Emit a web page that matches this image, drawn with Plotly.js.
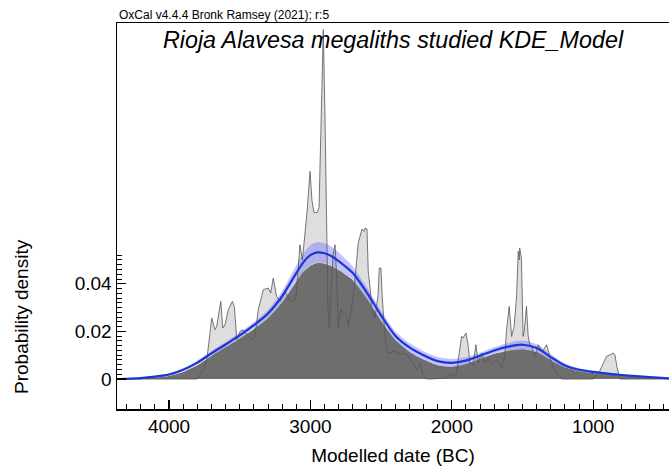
<!DOCTYPE html>
<html>
<head>
<meta charset="utf-8">
<script src="https://cdn.plot.ly/plotly-3.0.1.min.js"></script>
<style>
html,body{margin:0;padding:0;background:#fff;}
#chart{width:669px;height:466px;}
</style>
</head>
<body>
<div id="chart"></div>
<script>
// ---- Data (years BC, probability density) ----
// KDE mean (blue line) and its 1-sigma half width (blue band)
var kdeYears = [4368,4300,4200,4100,4000,3900,3800,3700,3600,3500,3400,3300,3200,3100,3050,3000,2950,2900,2850,2800,2700,2600,2500,2400,2300,2200,2100,2000,1900,1800,1700,1600,1500,1400,1300,1200,1100,1000,900,800,700,600,464];
var kdeMean  = [0.0000,0.0001,0.0004,0.0010,0.0019,0.0039,0.0069,0.0108,0.0145,0.0183,0.0226,0.0275,0.0348,0.0445,0.0490,0.0520,0.0532,0.0528,0.0516,0.0495,0.0445,0.0362,0.0267,0.0182,0.0133,0.0100,0.0075,0.0068,0.0077,0.0098,0.0120,0.0136,0.0144,0.0130,0.0092,0.0057,0.0039,0.0030,0.0023,0.0017,0.0012,0.0008,0.0003];
var kdeSigma = [0.0001,0.0002,0.0003,0.0004,0.0005,0.0006,0.0008,0.0009,0.0010,0.0011,0.0013,0.0016,0.0022,0.0032,0.0038,0.0042,0.0043,0.0042,0.0040,0.0036,0.0028,0.0022,0.0020,0.0019,0.0018,0.0017,0.0017,0.0016,0.0014,0.0012,0.0013,0.0016,0.0018,0.0016,0.0012,0.0008,0.0006,0.0005,0.0004,0.0003,0.0003,0.0002,0.0001];
// Modelled KDE distribution (dark grey)
var modelled = [0.0000,0.0000,0.0002,0.0006,0.0013,0.0030,0.0058,0.0097,0.0133,0.0170,0.0210,0.0256,0.0322,0.0410,0.0450,0.0475,0.0487,0.0484,0.0474,0.0458,0.0415,0.0338,0.0245,0.0165,0.0115,0.0082,0.0058,0.0052,0.0063,0.0085,0.0106,0.0119,0.0125,0.0113,0.0080,0.0049,0.0033,0.0025,0.0019,0.0014,0.0010,0.0006,0.0002];
// Unmodelled summed distribution (light grey)
var sumYears = [4368,3852,3804,3757,3733,3698,3675,3663,3634,3620,3604,3581,3552,3538,3521,3498,3475,3451,3415,3392,3369,3333,3298,3281,3263,3239,3215,3180,3144,3102,3074,3057,3024,3003,2989,2975,2953,2939,2925,2909,2897,2885,2876,2867,2855,2840,2826,2816,2803,2786,2770,2744,2732,2697,2662,2635,2621,2614,2600,2591,2579,2567,2544,2522,2513,2501,2493,2484,2472,2456,2437,2416,2388,2367,2338,2317,2296,2272,2249,2225,2204,2190,2154,2036,2013,1990,1966,1954,1931,1921,1900,1884,1873,1849,1830,1813,1790,1766,1742,1719,1683,1648,1625,1613,1594,1577,1559,1542,1530,1523,1520,1508,1496,1488,1472,1460,1448,1436,1412,1389,1358,1330,1306,1283,1248,1224,1002,1000,953,929,906,882,858,846,832,811,464];
var sumVals  = [0,0,0,0.0040,0.0080,0.0256,0.0207,0.0221,0.0326,0.0214,0.0228,0.0291,0.0326,0.0305,0.0165,0.0200,0.0207,0.0186,0.0165,0.0179,0.0291,0.0375,0.0382,0.0361,0.0424,0.0347,0.0326,0.0368,0.0326,0.0340,0.0564,0.0500,0.0700,0.0872,0.0750,0.0700,0.0699,0.0720,0.1100,0.1468,0.1100,0.0600,0.0300,0.0214,0.0350,0.0520,0.0564,0.0450,0.0214,0.0291,0.0277,0.0270,0.0220,0.0338,0.0571,0.0630,0.0620,0.0634,0.0630,0.0450,0.0389,0.0305,0.0256,0.0350,0.0466,0.0466,0.0350,0.0256,0.0180,0.0109,0.0110,0.0116,0.0113,0.0105,0.0109,0.0101,0.0088,0.0067,0.0039,0.0067,0.0015,0.0002,0,0.0004,0.0025,0.0004,0.0025,0.0084,0.0179,0.0172,0.0193,0.0140,0.0067,0.0060,0.0144,0.0067,0.0109,0.0070,0.0088,0.0060,0.0081,0.0046,0.0100,0.0207,0.0305,0.0179,0.0221,0.0350,0.0536,0.0500,0.0550,0.0510,0.0179,0.0200,0.0305,0.0180,0.0144,0.0137,0.0095,0.0144,0.0116,0.0144,0.0095,0.0046,0.0018,0,0,0.0004,0.0035,0.0067,0.0095,0.0101,0.0109,0.0100,0.0050,0,0];
// Axis ticks
var xTickVals = [4000,3000,2000,1000];
var xTickText = ['4000','3000','2000','1000'];
var yTickVals = [0,0.02,0.04];
var yTickText = ['0','0.02','0.04'];

var bandLower = kdeMean.map(function(v,i){return Math.max(0, v - kdeSigma[i]);});
var bandUpper = kdeMean.map(function(v,i){return v + kdeSigma[i];});

var xMinor = [];
for (var t = 4300; t >= 500; t -= 100) { if (t % 1000 !== 0) xMinor.push(t); }
var yMinor = [];
for (var k = 1; k <= 26; k++) { if (k % 10 !== 0) yMinor.push(+(k*0.002).toFixed(3)); }

var FONT = 'Liberation Sans, Arial, Helvetica, sans-serif';

var traces = [
  {x: sumYears, y: sumVals, type:'scatter', mode:'lines', fill:'tozeroy',
   fillcolor:'#dedede', line:{width:0, color:'rgba(0,0,0,0)'}, hoverinfo:'skip'},
  {x: kdeYears, y: modelled, type:'scatter', mode:'lines', fill:'tozeroy',
   fillcolor:'#6e6e6e', line:{width:0, color:'rgba(0,0,0,0)', shape:'spline', smoothing:0.6}, hoverinfo:'skip'},
  {x: kdeYears, y: bandLower, type:'scatter', mode:'lines',
   line:{width:0, color:'rgba(0,0,0,0)', shape:'spline', smoothing:0.8}, hoverinfo:'skip'},
  {x: kdeYears, y: bandUpper, type:'scatter', mode:'lines', fill:'tonexty',
   fillcolor:'rgba(110,110,250,0.42)', line:{width:0, color:'rgba(0,0,0,0)', shape:'spline', smoothing:0.8}, hoverinfo:'skip'},
  {x: sumYears, y: sumVals, type:'scatter', mode:'lines',
   line:{width:0.8, color:'#555555'}, hoverinfo:'skip'},
  {x: kdeYears, y: kdeMean, type:'scatter', mode:'lines',
   line:{width:2.2, color:'#1a36d6', shape:'spline', smoothing:0.8}, hoverinfo:'skip'}
];

var layout = {
  width: 669, height: 466,
  margin: {l:117, r:0, t:23, b:57, pad:0},
  paper_bgcolor:'#ffffff', plot_bgcolor:'#ffffff',
  showlegend:false,
  font:{family:FONT, color:'#000', size:19},
  title:{text:'Rioja Alavesa megaliths studied KDE_Model',
         font:{family:FONT, size:23.3, color:'#000', style:'italic'},
         x:0.5, xref:'paper', xanchor:'center', y:1-40/466, yref:'container', yanchor:'middle'},
  xaxis:{
    range:[4368,464], showgrid:false, zeroline:false,
    showline:true, linecolor:'#000', linewidth:1.5, mirror:true,
    ticks:'inside', ticklen:9, tickwidth:1.3, tickcolor:'#000',
    tickvals:xTickVals, ticktext:xTickText,
    tickfont:{family:FONT, size:19, color:'#000'},
    minor:{tickvals:xMinor, ticks:'inside', ticklen:5, tickwidth:1, tickcolor:'#000'},
    title:{text:'Modelled date (BC)', font:{family:FONT, size:19, color:'#000'}, standoff:18}
  },
  yaxis:{
    range:[-0.01259,0.14952], showgrid:false, zeroline:false,
    showline:true, linecolor:'#000', linewidth:1.5,
    ticks:'inside', ticklen:9, tickwidth:1.3, tickcolor:'#000',
    tickvals:yTickVals, ticktext:yTickText,
    tickfont:{family:FONT, size:19, color:'#000'},
    minor:{tickvals:yMinor, ticks:'inside', ticklen:5, tickwidth:1, tickcolor:'#000'}
  },
  annotations:[
    {text:'OxCal v4.4.4 Bronk Ramsey (2021); r:5', xref:'paper', yref:'paper',
     x:0, y:1, xanchor:'left', yanchor:'bottom', showarrow:false, yshift:-1,
     font:{family:FONT, size:12, color:'#000'}},
    {text:'Probability density', xref:'paper', yref:'paper',
     x:(21-117)/552, y:(409-317)/386, xanchor:'center', yanchor:'middle',
     textangle:-90, showarrow:false, font:{family:FONT, size:19, color:'#000'}}
  ]
};

Plotly.newPlot('chart', traces, layout, {staticPlot:true, displayModeBar:false});
</script>
</body>
</html>
